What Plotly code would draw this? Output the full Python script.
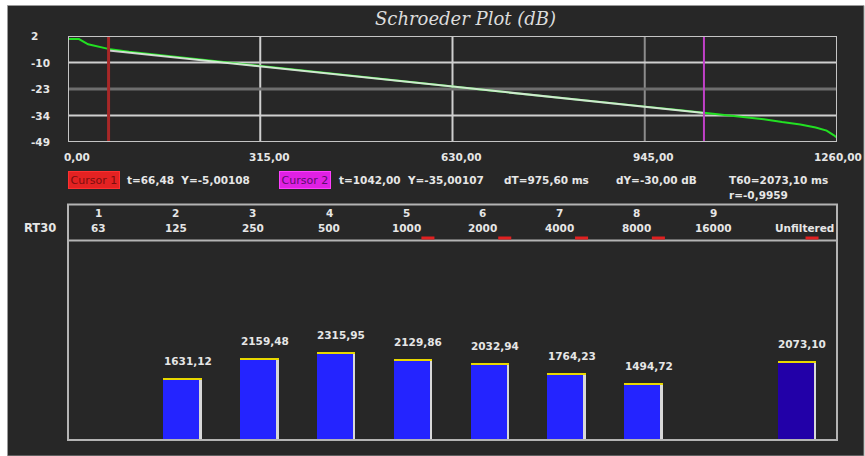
import plotly.graph_objects as go

W, H = 865, 456

# ---------------- data ----------------
# Schroeder decay curve (time ms, level dB)
decay_t = [0, 18, 33, 50, 66, 100, 150, 200, 250, 300, 350, 400, 450, 500, 550, 600,
           650, 700, 750, 800, 850, 900, 950, 1000, 1042, 1075, 1110, 1140, 1170, 1200,
           1225, 1243, 1255, 1260]
decay_db = [0.5, 0.5, -2.0, -3.2, -4.2, -5.6, -7.2, -8.7, -10.3, -11.9, -13.6, -15.1,
            -16.8, -18.2, -19.8, -21.3, -22.9, -24.5, -26.0, -27.6, -29.0, -30.6, -32.1,
            -33.6, -35.0, -35.9, -37.0, -38.0, -39.4, -40.6, -42.0, -43.5, -45.8, -47.0]

cursor1_t, cursor1_y = 66.48, -5.00108
cursor2_t, cursor2_y = 1042.00, -35.00107

x_ticks = [0, 315, 630, 945, 1260]
x_tick_text = ["0,00", "315,00", "630,00", "945,00", "1260,00"]
y_ticks = [2, -10.75, -23.5, -36.25, -49]
y_tick_text = ["2", "-10", "-23", "-34", "-49"]

band_no = ["1", "2", "3", "4", "5", "6", "7", "8", "9", ""]
band_freq = ["63", "125", "250", "500", "1000", "2000", "4000", "8000", "16000", "Unfiltered"]
rt30 = [None, 1631.12, 2159.48, 2315.95, 2129.86, 2032.94, 1764.23, 1494.72, None, 2073.10]
red_mark_cols = [4, 5, 6, 7, 9]

info_texts = ["dT=975,60 ms", "dY=-30,00 dB", "T60=2073,10 ms", "r=-0,9959"]

# ---------------- helpers ----------------
def PX(x):
    return x / W

def PY(y):
    return 1 - y / H

FONT = "DejaVu Sans"
FS = 10.5
TXT = "#e6e6e6"
PANEL = "#272727"
GRID = "#cfcfcf"

def B(s):
    return "<b>" + s + "</b>"

fig = go.Figure()

# top: Schroeder curve
fig.add_trace(go.Scatter(x=decay_t, y=decay_db, mode="lines",
                         line=dict(color="#22e022", width=2), xaxis="x", yaxis="y",
                         hoverinfo="skip"))
fig.add_trace(go.Scatter(x=[cursor1_t, cursor2_t], y=[cursor1_y, cursor2_y], mode="lines",
                         line=dict(color="#ececec", width=2), xaxis="x", yaxis="y",
                         opacity=0.85, hoverinfo="skip"))

# bottom: bars
idx = list(range(len(band_freq)))
bx = [i for i, v in zip(idx, rt30) if v is not None]
bv = [v for v in rt30 if v is not None]
bcol = ["#2200a8" if band_freq[i] == "Unfiltered" else "#2424ff" for i in bx]
BW = 0.48
fig.add_trace(go.Bar(x=bx, y=bv, width=BW, marker=dict(color=bcol, line=dict(width=0)),
                     xaxis="x2", yaxis="y2", hoverinfo="skip"))
# yellow cap
cap = 55
fig.add_trace(go.Bar(x=bx, y=[cap] * len(bv), base=[v - cap for v in bv], width=BW + 0.02,
                     offset=-BW / 2, marker=dict(color="#e8d800", line=dict(width=0)),
                     xaxis="x2", yaxis="y2", hoverinfo="skip"))
# light right edge
fig.add_trace(go.Bar(x=bx, y=[v - cap for v in bv], width=0.025, offset=BW / 2 - 0.005,
                     marker=dict(color="#d8d8d8", line=dict(width=0)),
                     xaxis="x2", yaxis="y2", hoverinfo="skip"))

shapes = []
annotations = []

# background panel
shapes.append(dict(type="rect", xref="paper", yref="paper", x0=PX(7.5), x1=PX(864), y0=0,
                   y1=PY(5.5), fillcolor=PANEL, line=dict(color="#9a9a9a", width=1), layer="below"))

# grid lines in top plot
for v in x_ticks[1:-1]:
    shapes.append(dict(type="line", xref="x", yref="y", x0=v, x1=v, y0=-49, y1=2,
                       line=dict(color="#8c8c8c" if v == 945 else GRID, width=2), layer="below"))
for v in y_ticks[1:-1]:
    shapes.append(dict(type="line", xref="x", yref="y", x0=0, x1=1260, y0=v, y1=v,
                       line=dict(color="#6e6e6e" if v == -23.5 else GRID,
                                 width=3 if v == -23.5 else 2), layer="below"))
# cursors
shapes.append(dict(type="line", xref="x", yref="y", x0=cursor1_t, x1=cursor1_t, y0=-49, y1=2,
                   line=dict(color="#a82828", width=3)))
shapes.append(dict(type="line", xref="x", yref="y", x0=cursor2_t, x1=cursor2_t, y0=-49, y1=2,
                   line=dict(color="#c040c8", width=2)))
# top plot frame
shapes.append(dict(type="rect", xref="x", yref="y", x0=0, x1=1260, y0=-49, y1=2,
                   line=dict(color="#c4c4c4", width=2)))

# bottom panel frame + header separator
shapes.append(dict(type="rect", xref="paper", yref="paper", x0=PX(68), x1=PX(837), y0=PY(440),
                   y1=PY(204.5), line=dict(color="#b4b4b4", width=2)))
shapes.append(dict(type="line", xref="paper", yref="paper", x0=PX(68), x1=PX(837), y0=PY(240.5),
                   y1=PY(240.5), line=dict(color="#b4b4b4", width=2)))
# red marks in header
for c in red_mark_cols:
    shapes.append(dict(type="rect", xref="x2", yref="paper", x0=c + 0.12, x1=c + 0.29,
                       y0=PY(239.5), y1=PY(236.5), fillcolor="#e02020", line=dict(width=0)))

# title
annotations.append(dict(text="<i>Schroeder Plot (dB)</i>", xref="paper", yref="paper", x=PX(465),
                        y=PY(18), showarrow=False,
                        font=dict(family="DejaVu Serif", size=18, color="#dcdcdc"),
                        xanchor="center", yanchor="middle"))
# axis tick labels
for v, t in zip(y_ticks, y_tick_text):
    annotations.append(dict(text=B(t), xref="paper", yref="y", x=PX(29), y=v,
                            showarrow=False, xanchor="left", yanchor="middle",
                            font=dict(family=FONT, size=FS, color=TXT)))
for v, t in zip(x_ticks, x_tick_text):
    last = v == x_ticks[-1]
    annotations.append(dict(text=B(t), xref="x", yref="paper", x=v, y=PY(157),
                            showarrow=False, xanchor="right" if last else "center",
                            xshift=27 if last else 9, yanchor="middle",
                            font=dict(family=FONT, size=FS, color=TXT)))

# cursor info row
annotations.append(dict(text="Cursor 1", xref="paper", yref="paper", x=PX(68), y=PY(180),
                        xanchor="left", yanchor="middle", showarrow=False, bgcolor="#e42222",
                        bordercolor="#ff3030", borderwidth=1, borderpad=1.5,
                        font=dict(family=FONT, size=11, color="#7a0e0e")))
annotations.append(dict(text=B("t=%s  Y=%s" % (f"{cursor1_t:.2f}".replace(".", ","),
                                                f"{cursor1_y:.5f}".replace(".", ","))),
                        xref="paper", yref="paper", x=PX(125), y=PY(180), xanchor="left",
                        yanchor="middle", showarrow=False, font=dict(family=FONT, size=FS, color=TXT)))
annotations.append(dict(text="Cursor 2", xref="paper", yref="paper", x=PX(279), y=PY(180),
                        xanchor="left", yanchor="middle", showarrow=False, bgcolor="#e020e4",
                        bordercolor="#ff40ff", borderwidth=1, borderpad=1.5,
                        font=dict(family=FONT, size=11, color="#5a0e6a")))
annotations.append(dict(text=B("t=%s  Y=%s" % (f"{cursor2_t:.2f}".replace(".", ","),
                                                f"{cursor2_y:.5f}".replace(".", ","))),
                        xref="paper", yref="paper", x=PX(337), y=PY(180), xanchor="left",
                        yanchor="middle", showarrow=False, font=dict(family=FONT, size=FS, color=TXT)))
info_pos = [(502, 180), (614, 180), (727, 180), (727, 195)]
for t, (px, py) in zip(info_texts, info_pos):
    annotations.append(dict(text=B(t), xref="paper", yref="paper", x=PX(px), y=PY(py), xanchor="left",
                            yanchor="middle", showarrow=False, font=dict(family=FONT, size=FS, color=TXT)))

# header row
annotations.append(dict(text=B("RT30"), xref="paper", yref="paper", x=PX(22), y=PY(228),
                        xanchor="left", yanchor="middle", showarrow=False,
                        font=dict(family=FONT, size=11.5, color=TXT)))
for i, (n, f) in enumerate(zip(band_no, band_freq)):
    last = f == "Unfiltered"
    annotations.append(dict(text=B(n), xref="x2", yref="paper", x=i, y=PY(213), xshift=-6,
                            showarrow=False, xanchor="center", yanchor="middle",
                            font=dict(family=FONT, size=FS, color=TXT)))
    annotations.append(dict(text=B(f), xref="x2", yref="paper", x=i, y=PY(228),
                            xshift=8 if last else -6, showarrow=False, xanchor="center",
                            yanchor="middle", font=dict(family=FONT, size=FS, color=TXT)))
# bar value labels
for i, v in zip(bx, bv):
    annotations.append(dict(text=B(f"{v:.2f}".replace(".", ",")), xref="x2", yref="y2", x=i, y=v,
                            xshift=6, yshift=17, showarrow=False, xanchor="center",
                            yanchor="middle", font=dict(family=FONT, size=FS, color=TXT)))

fig.update_layout(
    width=W, height=H, margin=dict(l=0, r=0, t=0, b=0),
    paper_bgcolor="#ffffff", plot_bgcolor="rgba(0,0,0,0)", showlegend=False,
    barmode="overlay", bargap=0,
    xaxis=dict(domain=[PX(68), PX(837)], range=[0, 1260], showgrid=False, zeroline=False,
               showticklabels=False, ticks="", fixedrange=True),
    yaxis=dict(domain=[PY(142), PY(36)], range=[-49, 2], showgrid=False, zeroline=False,
               showticklabels=False, ticks="", fixedrange=True),
    xaxis2=dict(domain=[PX(68), PX(837)], range=[-0.48, 9.53], showgrid=False, zeroline=False,
                showticklabels=False, ticks="", anchor="y2", fixedrange=True),
    yaxis2=dict(domain=[PY(440), PY(241)], range=[0, 5240], showgrid=False, zeroline=False,
                showticklabels=False, ticks="", anchor="x2", fixedrange=True),
    shapes=shapes, annotations=annotations,
)

fig.write_html("out.html", config={"displayModeBar": False},
               post_script="document.body.style.margin='0';document.body.style.overflow='hidden';")
